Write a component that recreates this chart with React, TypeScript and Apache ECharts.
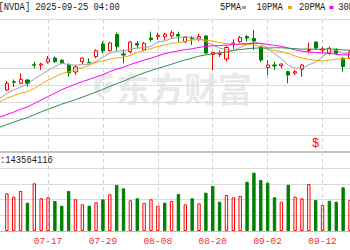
import React, { useEffect, useRef } from "react";
import * as echarts from "echarts";

const DATES = [
  "07-08", "07-09", "07-10", "07-11", "07-14", "07-15", "07-16", "07-17", "07-18", "07-21",
  "07-22", "07-23", "07-24", "07-25", "07-28", "07-29", "07-30", "07-31", "08-01", "08-04",
  "08-05", "08-06", "08-07", "08-08", "08-11", "08-12", "08-13", "08-14", "08-15", "08-18",
  "08-19", "08-20", "08-21", "08-22", "08-25", "08-26", "08-27", "08-28", "08-29", "09-02",
  "09-03", "09-04", "09-05", "09-08", "09-09", "09-10", "09-11", "09-12", "09-15", "09-16",
  "09-17", "09-18",
];
const LABEL_DATES = ["07-17", "07-29", "08-08", "08-20", "09-02", "09-12"];

const OPEN = [null,
  160.89, 164.19, 163.58, 164.91, 171.07, 170.95, 172.16, 173.77, 172.84, 170.95,
  168.13, 172.36, 171.99, 174.29, 179.40, 176.71, 183.23, 175.38, 176.39, 179.61,
  176.99, 181.82, 182.43, 182.34, 182.63, 183.23, 180.33, 181.82, 181.42, 182.63,
  175.18, 175.18, 173.37, 179.40, 180.33, 182.43, 181.62, 178.32, 169.94, 170.95,
  170.67, 168.25, 167.73, 169.22, 176.79, 180.21, 176.99, 175.66, 177.27, 173.57, 173.77];
const CLOSE = [null,
  163.58, 163.99, 165.19, 163.58, 170.87, 171.35, 173.37, 172.36, 171.88, 167.85,
  170.15, 173.77, 171.83, 176.71, 176.59, 179.81, 178.32, 174.98, 180.21, 179.00,
  179.69, 181.22, 182.91, 183.31, 183.95, 182.63, 182.10, 181.42, 182.43, 175.78,
  175.98, 175.46, 177.99, 179.81, 182.02, 181.82, 180.61, 172.96, 170.95, 170.55,
  171.35, 166.92, 168.25, 170.95, 177.19, 177.79, 177.39, 177.67, 175.66, 170.35, 176.18];
const LOW = [null,
  160.48, 162.09, 163.18, 162.21, 169.62, 168.94, 171.55, 171.76, 171.23, 166.24,
  166.92, 171.35, 171.76, 173.65, 175.58, 176.39, 176.59, 171.55, 175.58, 177.59,
  176.39, 180.33, 181.02, 181.02, 181.70, 180.21, 179.81, 179.00, 180.61, 175.38,
  168.94, 174.17, 172.36, 177.27, 179.81, 180.33, 176.99, 172.16, 166.92, 168.94,
  169.62, 163.58, 166.92, 166.24, 175.66, 176.99, 175.66, 174.98, 174.98, 168.25, 173.37];
const HIGH = [null,
  164.51, 165.11, 167.61, 165.19, 172.28, 171.88, 174.57, 174.37, 173.25, 171.64,
  170.95, 173.89, 173.65, 177.27, 180.61, 180.33, 184.03, 177.19, 180.61, 180.61,
  180.21, 184.36, 183.95, 183.95, 184.76, 184.36, 182.63, 182.63, 183.43, 183.03,
  176.31, 176.79, 178.60, 181.30, 182.63, 183.03, 185.04, 178.80, 172.96, 172.28,
  171.64, 168.66, 168.94, 171.35, 179.93, 180.33, 178.32, 178.32, 177.67, 174.17, 176.99];

const MA5 = [157.63,
  159.54, 160.91, 162.03, 163.19, 165.33, 167.03, 168.81, 170.31, 171.77, 171.04,
  170.92, 171.07, 171.29, 172.36, 174.06, 175.75, 176.58, 176.62, 177.27, 177.82,
  177.85, 178.43, 180.23, 180.64, 181.62, 182.06, 182.31, 181.86, 181.85, 180.34,
  179.10, 177.70, 177.20, 176.76, 177.99, 179.23, 180.27, 179.51, 177.70, 175.47,
  173.48, 170.85, 169.68, 169.67, 171.02, 172.12, 174.28, 176.17, 176.99, 175.58, 175.40];
const MA10 = [156.11,
  157.61, 158.59, 159.58, 160.21, 161.48, 163.29, 164.86, 166.17, 167.48, 168.19,
  168.98, 169.94, 170.80, 172.07, 172.55, 173.34, 173.82, 173.96, 174.82, 175.94,
  176.80, 177.51, 178.43, 178.96, 179.72, 179.96, 180.37, 181.04, 181.24, 180.98,
  180.58, 180.00, 179.53, 179.31, 179.17, 179.17, 178.98, 178.36, 177.23, 176.73,
  176.36, 175.56, 174.59, 173.69, 173.24, 172.80, 172.57, 172.92, 173.33, 173.30, 173.76];
const MA20 = [149.99,
  151.00, 152.01, 153.11, 154.07, 155.50, 156.84, 158.28, 159.63, 161.01, 162.15,
  163.29, 164.26, 165.19, 166.14, 167.01, 168.31, 169.34, 170.06, 171.15, 172.06,
  172.89, 173.72, 174.61, 175.51, 176.14, 176.65, 177.10, 177.50, 178.03, 178.46,
  178.69, 178.75, 178.98, 179.13, 179.44, 179.56, 179.68, 179.70, 179.24, 178.86,
  178.47, 177.78, 177.06, 176.50, 176.20, 175.98, 175.77, 175.64, 175.28, 175.01, 175.06];
const MA30 = [145.93,
  146.98, 147.94, 148.94, 149.77, 150.96, 152.09, 153.15, 154.17, 155.21, 156.06,
  156.99, 157.99, 159.01, 160.07, 161.19, 162.34, 163.46, 164.40, 165.61, 166.75,
  167.80, 168.68, 169.60, 170.41, 171.25, 172.19, 173.02, 173.72, 174.51, 175.04,
  175.45, 175.82, 176.25, 176.78, 177.15, 177.49, 177.73, 177.78, 177.76, 177.88,
  177.91, 177.69, 177.52, 177.32, 177.38, 177.31, 177.31, 177.44, 177.27, 177.00, 176.90];

// volume in millions of shares
const VOLUME_M = [null,
  182.1, 165.7, 193.2, 136.7, 230.4, 157.9, 162.8, 144.9, 122.2, 193.2,
  153.1, 129.0, 122.2, 138.6, 153.1, 177.3, 222.2, 206.2, 148.3, 157.9,
  135.2, 153.1, 122.2, 136.7, 144.9, 178.7, 129.0, 157.9, 133.8, 185.0,
  217.4, 141.5, 173.9, 162.8, 169.1, 238.1, 281.6, 246.3, 233.3, 162.8,
  141.5, 223.6, 165.7, 157.9, 227.0, 149.7, 125.6, 146.3, 141.5, 211.1, 149.7];
// 1 = close above previous close (red), -1 = below (green)
const VOL_DIR = [0,
  1, 1, 1, -1, 1, 1, 1, -1, -1, -1,
  1, 1, -1, 1, -1, 1, -1, -1, 1, -1,
  1, 1, 1, -1, 1, -1, 1, -1, 1, -1,
  -1, -1, 1, 1, 1, -1, -1, -1, -1, -1,
  1, -1, 1, 1, 1, -1, 1, -1, -1, -1, 1];

const PRICE_MIN = 136.13;
const PRICE_MAX = 189.47;
const PRICE_GRID = [142.8, 149.47, 156.13, 162.8, 169.47, 176.13, 189.47];
const VOL_MAX = 304.4;
const VOL_STEP = 76.1;
const DIVIDEND_DATES = ["09-11"];

const HEADER = "[NVDA] 2025-09-25 04:00";
const LAST_VOLUME = ":143564116";
const LEGEND = ["5PMA", "10PMA", "20PMA", "30PMA"];
const WATERMARK = "东方财富";

const UP = "#ff0000";
const DOWN = "#008000";
const MA_COLORS = ["#a0a0a0", "#f5a300", "#ff00ff", "#2f8f4f"];

const LOGO_PATH =
  "M14 0 C6 0 0 6 0 13 C0 20 5 26 12 26 C8 23 6 19 6 15 C6 9 11 5 17 5 C19 5 20 5.5 20 5.5 C19 2 17 0 14 0 Z M9 16 C9 11 13 8 18 9 C20 14 17 20 11 21 C9.7 19.5 9 18 9 16 Z";

export default function App() {
  const ref = useRef<HTMLDivElement>(null);

  useEffect(() => {
    const el = ref.current;
    if (!el) return;
    try {
      echarts.graphic.registerShape("emlogo", echarts.graphic.extendPath(LOGO_PATH, {}));
    } catch (e) {}
    const chart = echarts.init(el, null, { renderer: "svg" });

    const gridLeft = -5.06;
    const gridWidth = 355.98;
    const mono = '"Liberation Mono", "DejaVu Sans Mono", monospace';

    const txt = (text: string, x: number, y: number, fill = "#1a1a1a") => ({
      type: "text",
      x,
      y,
      scaleX: 0.8,
      z: 20,
      style: { text, fill, fontSize: 11, fontFamily: mono, verticalAlign: "middle", align: "left" },
    });

    const legendX = [220, 256.5, 299, 338.3];
    const swatchX = [242, 288, 329.5, 368];
    const graphics: any[] = [
      {
        type: "text",
        x: 116,
        y: 87,
        z: 0,
        style: {
          text: WATERMARK,
          fill: "#e9e9e9",
          fontSize: 34,
          fontWeight: "bold",
          fontFamily: '"Noto Sans CJK SC", sans-serif',
          verticalAlign: "middle",
          align: "left",
        },
      },
      { type: "emlogo", x: 94, y: 73, scaleX: 1, scaleY: 1, z: 0, style: { fill: "#e9e9e9" } },
      txt(HEADER, -1.5, 7.5),
      txt(LAST_VOLUME, 0, 160.7),
    ];
    LEGEND.forEach((name, i) => {
      graphics.push(txt(name, legendX[i], 7.5));
      graphics.push({
        type: "rect",
        x: swatchX[i],
        y: 6,
        z: 20,
        shape: { x: 0, y: 0, width: 4, height: 3 },
        style: { fill: MA_COLORS[i] },
      });
    });

    const candleData = DATES.map((d, i) =>
      OPEN[i] == null ? "-" : [OPEN[i], CLOSE[i], LOW[i], HIGH[i]]
    );
    const volData = DATES.map((d, i) =>
      VOLUME_M[i] == null
        ? "-"
        : {
            value: VOLUME_M[i],
            itemStyle: {
              color: VOL_DIR[i] > 0 ? "transparent" : DOWN,
              borderColor: VOL_DIR[i] > 0 ? UP : DOWN,
              borderWidth: 1,
            },
          }
    );
    const maSeries = [MA5, MA10, MA20, MA30].map((arr, k) => ({
      type: "line",
      name: LEGEND[k],
      xAxisIndex: 0,
      yAxisIndex: 0,
      data: arr,
      symbol: "none",
      showSymbol: false,
      smooth: false,
      silent: true,
      z: 3,
      lineStyle: { color: MA_COLORS[k], width: 1 },
    }));

    const option: any = {
      animation: false,
      backgroundColor: "#ffffff",
      grid: [
        { left: gridLeft, width: gridWidth, top: 19, height: 132.5 },
        { left: gridLeft, width: gridWidth, top: 168, height: 63 },
        { left: gridLeft, width: gridWidth, top: 19, height: 212 },
      ],
      xAxis: [
        {
          type: "category",
          gridIndex: 0,
          data: DATES,
          boundaryGap: false,
          axisLine: { show: true, onZero: false, lineStyle: { color: "#c4c4c4", width: 2 } },
          axisTick: { show: false },
          axisLabel: { show: false },
          splitLine: { show: false },
        },
        {
          type: "category",
          gridIndex: 1,
          data: DATES,
          boundaryGap: false,
          axisLine: { show: true, onZero: false, lineStyle: { color: "#bdbdbd", width: 1 } },
          axisTick: { show: false },
          axisLabel: {
            interval: (_i: number, v: string) => LABEL_DATES.includes(v),
            color: "#ff2a2a",
            fontSize: 9.5,
            fontFamily: mono,
            margin: 5,
          },
          splitLine: { show: false },
        },
        {
          type: "category",
          gridIndex: 2,
          data: DATES,
          boundaryGap: false,
          axisLine: { show: false },
          axisTick: { show: false },
          axisLabel: { show: false },
          splitLine: {
            show: true,
            interval: (_i: number, v: string) => LABEL_DATES.includes(v),
            lineStyle: { color: "#d4d4d4", width: 1, type: [4, 3] },
          },
        },
      ],
      yAxis: [
        { type: "value", gridIndex: 0, min: PRICE_MIN, max: PRICE_MAX, show: false, splitLine: { show: false } },
        {
          type: "value",
          gridIndex: 1,
          min: 0,
          max: VOL_MAX,
          interval: VOL_STEP,
          axisLine: { show: false },
          axisTick: { show: false },
          axisLabel: { show: false },
          splitLine: { show: true, lineStyle: { color: "#dcdcdc", width: 1 } },
        },
        { type: "value", gridIndex: 2, min: 0, max: 1, show: false, splitLine: { show: false } },
      ],
      series: [
        {
          type: "candlestick",
          xAxisIndex: 0,
          yAxisIndex: 0,
          data: candleData,
          barWidth: 3.6,
          silent: true,
          z: 2,
          itemStyle: {
            color: "transparent",
            color0: DOWN,
            borderColor: UP,
            borderColor0: DOWN,
            borderWidth: 1,
          },
          markLine: {
            silent: true,
            z: 1,
            symbol: ["none", "none"],
            label: { show: false },
            lineStyle: { color: "#dcdcdc", width: 1, type: "solid" },
            data: PRICE_GRID.map((v) => ({ yAxis: v })),
          },
          markPoint: {
            silent: true,
            symbol: "rect",
            symbolSize: 1,
            itemStyle: { color: "transparent" },
            label: {
              show: true,
              formatter: "$",
              color: UP,
              fontSize: 12,
              fontFamily: mono,
              position: "inside",
              offset: [0, -7.5],
            },
            data: DIVIDEND_DATES.map((d) => ({ coord: [d, PRICE_MIN] })),
          },
        },
        ...maSeries,
        {
          type: "bar",
          xAxisIndex: 1,
          yAxisIndex: 1,
          data: volData,
          barWidth: 3.4,
          silent: true,
          z: 2,
        },
      ],
      graphic: graphics,
    };

    chart.setOption(option);
    return () => {
      chart.dispose();
    };
  }, []);

  return (
    <div style={{ position: "fixed", left: 0, top: 0, width: 350, height: 250, background: "#fff" }}>
      <div ref={ref} style={{ width: 350, height: 250 }} />
    </div>
  );
}
